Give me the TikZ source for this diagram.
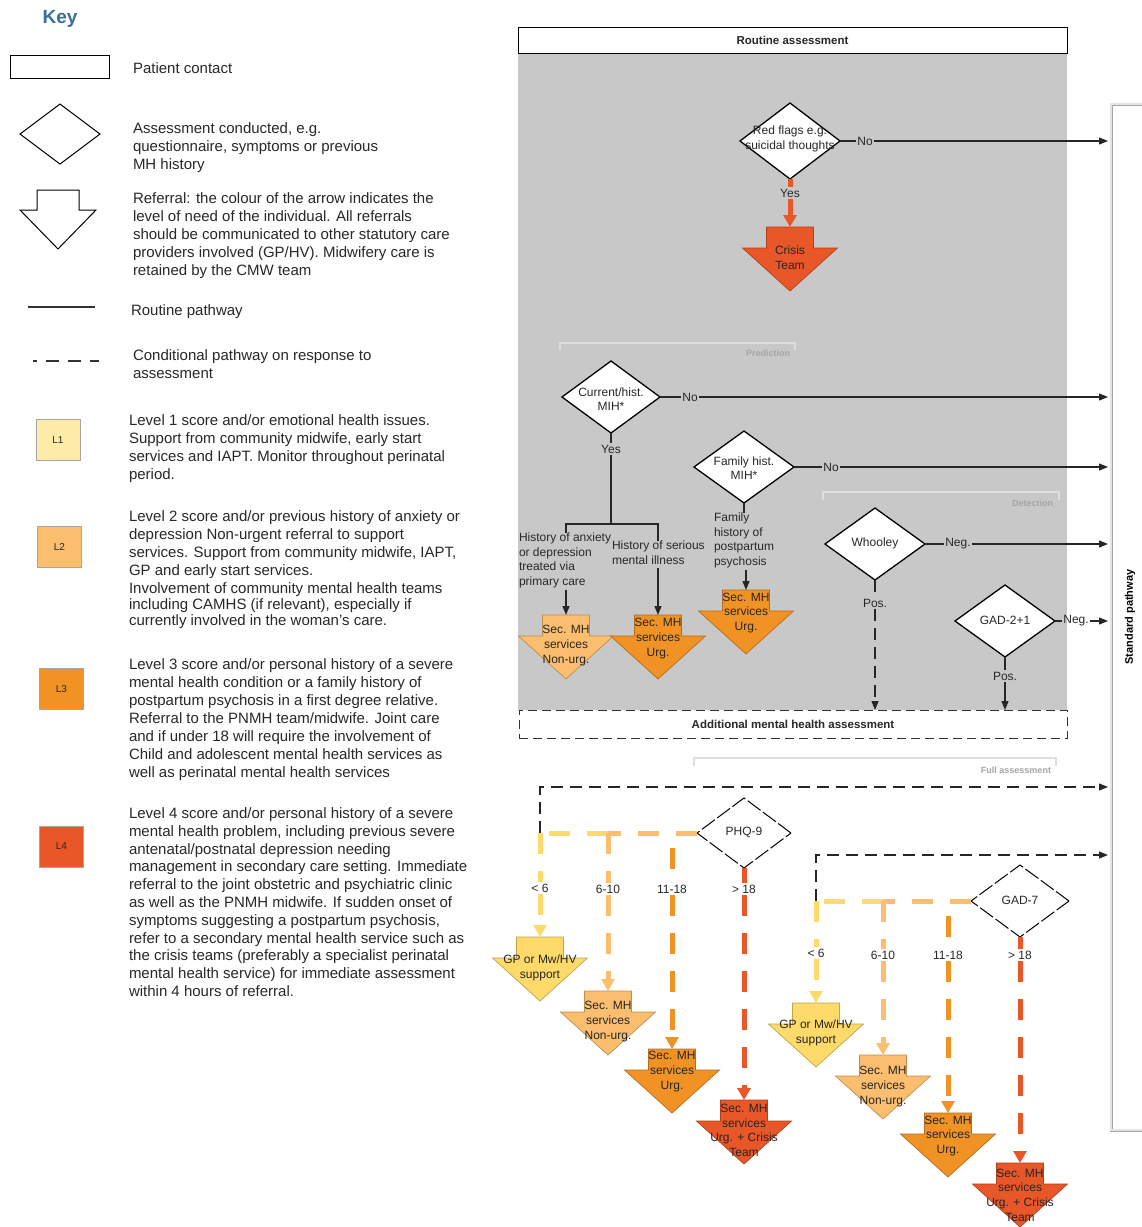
\documentclass[tikz,border=0pt]{standalone}
\usepackage{fontspec}
\setmainfont{Liberation Sans}
\usetikzlibrary{shapes.geometric,arrows.meta}
\definecolor{bggray}{RGB}{200,200,200}
\definecolor{lone}{RGB}{255,235,168}
\definecolor{lyel}{RGB}{253,218,106}
\definecolor{ltwo}{RGB}{251,190,110}
\definecolor{lthree}{RGB}{241,146,36}
\definecolor{lfour}{RGB}{233,86,40}
\definecolor{keyblue}{RGB}{58,110,158}
\definecolor{brk}{RGB}{160,160,160}
\definecolor{brkin}{RGB}{222,222,222}
\definecolor{brktext}{RGB}{165,165,165}
\definecolor{stdl}{RGB}{165,165,165}
\definecolor{stdin}{RGB}{228,228,228}
\definecolor{textc}{RGB}{40,40,40}
\newcommand\mykeyfont{\fontsize{15}{18}\selectfont}
\newcommand\mydiagfont{\fontsize{12}{14.6}\selectfont}
\newcommand\mybrkfont{\fontsize{9}{10}\selectfont\bfseries}
\newcommand\refarrow[6]{%
  \begin{scope}[shift={(#2,#3)}]
    \filldraw[fill=#4, draw=#4!75!black, line width=0.7pt]
      (-23.5,0) -- (23.5,0) -- (23.5,21) -- (47.5,21) -- (0,64) -- (-47.5,21) -- (-23.5,21) -- cycle;
  \end{scope}
  \coordinate (#1-top) at (#2,#3);
  \node[dtext, text=black!85] (#1) at (#2,#5) {#6};
}
\begin{document}
\begin{tikzpicture}[x=1pt,y=-1pt,
  every node/.style={inner sep=0pt, outer sep=0pt, text=textc},
  keytext/.style={anchor=north west, align=left, font=\mykeyfont},
  dtext/.style={font=\mydiagfont, align=center},
  dtextl/.style={font=\mydiagfont, align=left, anchor=north west},
  lbl/.style={font=\mydiagfont, inner sep=1.5pt},
  dia/.style={shape=diamond, draw=black, line width=1.3pt, fill=white, minimum width=100pt, minimum height=72pt, inner sep=0pt},
  conn/.style={draw=black!85, line width=1.2pt},
  arr/.style={conn, -{Triangle[length=9pt,width=7pt]}},
  cdash/.style={dash pattern=on 12pt off 7pt},
  bra/.style={line width=5pt, dash pattern=on 21pt off 17pt},
  carr/.style={-{Triangle[length=12pt,width=13pt]}},
  brkline/.style={draw=brk, line width=0.5pt, double=brkin, double distance=1.2pt},
  lbox/.style={draw=gray!70, line width=0.6pt, minimum width=44pt, minimum height=41pt, font=\fontsize{10}{12}\selectfont},
]
\useasboundingbox (0,0) rectangle (1142,1227);
\fill[white] (0,0) rectangle (1142,1227);

% ---------------- Key ----------------
\node[font=\fontsize{19}{22}\selectfont\bfseries, text=keyblue] (keyt) at (60,19) {Key};
\node[draw=black, line width=1pt, minimum width=99pt, minimum height=23pt] (kbox) at (59.5,66.5) {};
\node[keytext, anchor=west] (kboxt) at (133,68) {Patient contact};
\node[shape=diamond, draw=black, line width=1pt, minimum width=80pt, minimum height=60pt] (kdia) at (60,134) {};
\node[keytext] (kdiat) at (133,122.6) {Assessment conducted, e.g.\\questionnaire, symptoms or previous\\MH history};
\draw[black, line width=1pt] (37,190) -- (79,190) -- (79,210) -- (96,210) -- (58,249) -- (20,210) -- (37,210) -- cycle;
\node[keytext] (karrt) at (133,192.6) {Referral: the colour of the arrow indicates the\\level of need of the individual. All referrals\\should be communicated to other statutory care\\providers involved (GP/HV). Midwifery care is\\retained by the CMW team};
\coordinate (kl1) at (28,307); \coordinate (kl2) at (95,307);
\draw[line width=1.2pt, black!80] (kl1) -- (kl2);
\node[keytext, anchor=west] (klt) at (131,312) {Routine pathway};
\coordinate (kd1) at (33,361); \coordinate (kd2) at (99,361);
\draw[line width=1.2pt, black!80, dash pattern=on 13pt off 9pt, dash phase=9pt] (kd1) -- (kd2);
\node[keytext] (kdt) at (133,349.6) {Conditional pathway on response to\\assessment};

\node[lbox, fill=lone] (L1) at (58,440) {L1};
\node[keytext] (L1t) at (129,414.6) {Level 1 score and/or emotional health issues.\\Support from community midwife, early start\\services and IAPT. Monitor throughout perinatal\\period.};
\node[lbox, fill=ltwo] (L2) at (59.5,546.5) {L2};
\node[keytext] (L2t) at (129,510.6) {Level 2 score and/or previous history of anxiety or\\depression Non-urgent referral to support\\services. Support from community midwife, IAPT,\\GP and early start services.\\Involvement of community mental health teams\\[-2pt]including CAMHS (if relevant), especially if\\[-2pt]currently involved in the woman's care.};
\node[lbox, fill=lthree] (L3) at (61.5,689) {L3};
\node[keytext] (L3t) at (129,658.6) {Level 3 score and/or personal history of a severe\\mental health condition or a family history of\\postpartum psychosis in a first degree relative.\\Referral to the PNMH team/midwife. Joint care\\and if under 18 will require the involvement of\\Child and adolescent mental health services as\\well as perinatal mental health services};
\node[lbox, fill=lfour] (L4) at (61.5,846.5) {L4};
\node[keytext, font=\fontsize{15}{17.8}\selectfont] (L4t) at (129,807.6) {Level 4 score and/or personal history of a severe\\mental health problem, including previous severe\\antenatal/postnatal depression needing\\management in secondary care setting. Immediate\\referral to the joint obstetric and psychiatric clinic\\as well as the PNMH midwife. If sudden onset of\\symptoms suggesting a postpartum psychosis,\\refer to a secondary mental health service such as\\the crisis teams (preferably a specialist perinatal\\mental health service) for immediate assessment\\within 4 hours of referral.};

% ---------------- Frame ----------------
\fill[bggray] (518,53) rectangle (1067,711);
\node[draw=black, line width=1pt, fill=white, minimum width=549pt, minimum height=26pt, font=\fontsize{11.5}{13}\selectfont\bfseries] (routine) at (792.5,40) {Routine assessment};
\draw[draw=stdl, line width=0.8pt, double=stdin, double distance=1.4pt] (1145,104) -- (1111,104) -- (1111,1130) -- (1145,1130);
\node[rotate=90, font=\fontsize{11}{12}\selectfont\bfseries, text=black] (stdt) at (1130,617) {Standard pathway};
\coordinate (spx) at (1108,0);

% brackets
\draw[brkline] (560,350) -- (560,343) -- (795,343) -- (795,350);
\node[font=\mybrkfont, text=brktext, anchor=east] (predt) at (790,353) {Prediction};
\draw[brkline] (823,500) -- (823,492) -- (1059,492) -- (1059,500);
\node[font=\mybrkfont, text=brktext, anchor=east] (dett) at (1053,503) {Detection};
\draw[brkline] (694,766) -- (694,758) -- (1056,758) -- (1056,766);
\node[font=\mybrkfont, text=brktext, anchor=east] (fullt) at (1051,770) {Full assessment};

% ---------------- Red flags ----------------
\node[dia, minimum width=100pt, minimum height=76pt] (rf) at (790,141) {};
\node[dtext] (rft) at (790,139) {Red flags e.g.\\suicidal thoughts};
\node[lbl] (rfno) at (865,141) {No};
\draw[conn] (rf.east) -- (rfno.west);
\draw[arr] (rfno.east) -- (rfno.east -| spx);
\node[lbl] (rfyes) at (790,193) {Yes};
\refarrow{crisis}{790}{227}{lfour}{258}{Crisis\\Team}
\draw[line width=5pt, lfour] (rf.south) -- (rfyes.north);
\draw[line width=5pt, lfour, carr] (rfyes.south) -- (crisis-top);

% ---------------- Current / hist ----------------
\node[dia, minimum width=98pt, minimum height=72pt] (cur) at (611,397) {};
\node[dtext] (curt) at (611,399) {Current/hist.\\MIH*};
\node[lbl] (curno) at (690,397) {No};
\draw[conn] (cur.east) -- (curno.west);
\draw[arr] (curno.east) -- (curno.east -| spx);
\node[lbl] (curyes) at (611,449) {Yes};
\node[dtextl] (anx) at (519,532.7) {History of anxiety\\or depression\\treated via\\primary care};
\node[dtextl] (ser) at (612,540.7) {History of serious\\mental illness};
\coordinate (ya) at (566,524); \coordinate (yb) at (658,524); \coordinate (yj) at (611,524);
\draw[conn] (cur.south) -- (curyes.north);
\draw[conn] (curyes.south) -- (yj);
\draw[conn] (ya |- anx.north) -- (ya) -- (yb) -- (yb |- ser.north);
\refarrow{nu1}{566}{615}{ltwo}{645.5}{Sec. MH\\services\\Non-urg.}
\refarrow{ur1}{658}{615}{lthree}{638.5}{Sec. MH\\services\\Urg.}
\draw[arr, shorten <=2pt] (nu1-top |- anx.south) -- (nu1-top);
\draw[arr, shorten <=4pt] (ur1-top |- ser.south) -- (ur1-top);

% ---------------- Family ----------------
\node[dia, minimum width=100pt, minimum height=72pt] (fam) at (744,467) {};
\node[dtext] (famt) at (744,468) {Family hist.\\MIH*};
\node[lbl] (famno) at (831,467) {No};
\draw[conn] (fam.east) -- (famno.west);
\draw[arr] (famno.east) -- (famno.east -| spx);
\node[dtextl] (famx) at (714,512.7) {Family\\history of\\postpartum\\psychosis};
\draw[conn] (fam.south) -- (fam.south |- famx.north);
\refarrow{fu}{746}{590}{lthree}{613}{Sec. MH\\services\\Urg.}
\draw[arr, shorten <=2pt] (fu-top |- famx.south) -- (fu-top);

% ---------------- Additional ----------------
\node[draw=black!80, line width=1pt, dash pattern=on 9pt off 5pt, fill=white, minimum width=548pt, minimum height=28pt, font=\fontsize{11.5}{13}\selectfont\bfseries] (addl) at (793,724) {Additional mental health assessment};

% ---------------- Whooley ----------------
\node[dia] (who) at (875,544) {};
\node[dtext] (whot) at (875,543) {Whooley};
\node[lbl] (whoneg) at (958,544) {Neg.};
\draw[conn] (who.east) -- (whoneg.west);
\draw[arr] (whoneg.east) -- (whoneg.east -| spx);
\node[lbl] (whopos) at (875,603) {Pos.};
\draw[conn, cdash] (who.south) -- (whopos.north);
\draw[arr, cdash] (whopos.south) -- (whopos.south |- addl.north);

% ---------------- GAD-2+1 ----------------
\node[dia] (g21) at (1005,621) {};
\node[dtext] (g21t) at (1005,620) {GAD-2+1};
\node[lbl] (g21neg) at (1076,621) {Neg.};
\draw[conn] (g21.east) -- (g21neg.west);
\draw[arr] (g21neg.east) -- (g21neg.east -| spx);
\node[lbl] (g21pos) at (1005,676) {Pos.};
\draw[conn] (g21.south) -- (g21pos.north);
\draw[arr] (g21pos.south) -- (g21pos.south |- addl.north);

% ---------------- PHQ-9 ----------------
\coordinate (p1) at (540,833); \coordinate (p2) at (608,833); \coordinate (p3) at (672,833);
\coordinate (sp1) at (1108,787);
\draw[conn, cdash, -{Triangle[length=9pt,width=7pt]}] (p1) |- (sp1);
\node[dia, minimum width=94pt, minimum height=70pt, line width=1pt, dash pattern=on 16pt off 3pt] (phq) at (744,833) {};
\node[dtext] (phqt) at (744,832) {PHQ-9};
\draw[bra, ltwo] (phq.west) -- (p2);
\draw[bra, lyel] (p2) -- (p1);
\node[lbl] (q1) at (540,888) {< 6};
\node[lbl] (q2) at (608,889) {6-10};
\node[lbl] (q3) at (672,889) {11-18};
\node[lbl] (q4) at (744,889) {> 18};
\refarrow{qa}{540}{937}{lyel}{968}{GP or Mw/HV\\support}
\refarrow{qb}{608}{991}{ltwo}{1021.5}{Sec. MH\\services\\Non-urg.}
\refarrow{qc}{672}{1049}{lthree}{1071.5}{Sec. MH\\services\\Urg.}
\refarrow{qd}{744}{1100}{lfour}{1130.5}{Sec. MH\\services\\Urg. + Crisis\\Team}
\draw[bra, lyel] (p1) -- (q1.north);
\draw[bra, lyel, carr] (q1.south) -- (qa-top);
\draw[bra, ltwo] (p2) -- (q2.north);
\draw[bra, ltwo, carr] (q2.south) -- (qb-top);
\draw[bra, lthree, dash phase=23pt] (p3) -- (q3.north);
\draw[bra, lthree, carr] (q3.south) -- (qc-top);
\draw[bra, lfour] (phq.south) -- (q4.north);
\draw[bra, lfour, carr] (q4.south) -- (qd-top);

% ---------------- GAD-7 ----------------
\coordinate (g1) at (816,901); \coordinate (g2) at (883,901); \coordinate (g3) at (948,901);
\coordinate (sp2) at (1108,855);
\draw[conn, cdash, -{Triangle[length=9pt,width=7pt]}] (g1) |- (sp2);
\node[dia, minimum width=98pt, minimum height=72pt, line width=1pt, dash pattern=on 16pt off 3pt] (gad) at (1020,901) {};
\node[dtext] (gadt) at (1020,900) {GAD-7};
\draw[bra, ltwo] (gad.west) -- (g2);
\draw[bra, lyel] (g2) -- (g1);
\node[lbl] (r1) at (816,953) {< 6};
\node[lbl] (r2) at (883,955) {6-10};
\node[lbl] (r3) at (948,955) {11-18};
\node[lbl] (r4) at (1020,955) {> 18};
\refarrow{ra}{816}{1003}{lyel}{1033}{GP or Mw/HV\\support}
\refarrow{rb}{883}{1055}{ltwo}{1086.5}{Sec. MH\\services\\Non-urg.}
\refarrow{rc}{948}{1113}{lthree}{1136}{Sec. MH\\services\\Urg.}
\refarrow{rd}{1020}{1163}{lfour}{1195}{Sec. MH\\services\\Urg. + Crisis\\Team}
\draw[bra, lyel] (g1) -- (r1.north);
\draw[bra, lyel, carr] (r1.south) -- (ra-top);
\draw[bra, ltwo] (g2) -- (r2.north);
\draw[bra, ltwo, carr] (r2.south) -- (rb-top);
\draw[bra, lthree, dash phase=23pt] (g3) -- (r3.north);
\draw[bra, lthree, carr] (r3.south) -- (rc-top);
\draw[bra, lfour] (gad.south) -- (r4.north);
\draw[bra, lfour, carr] (r4.south) -- (rd-top);
\end{tikzpicture}
\end{document}
